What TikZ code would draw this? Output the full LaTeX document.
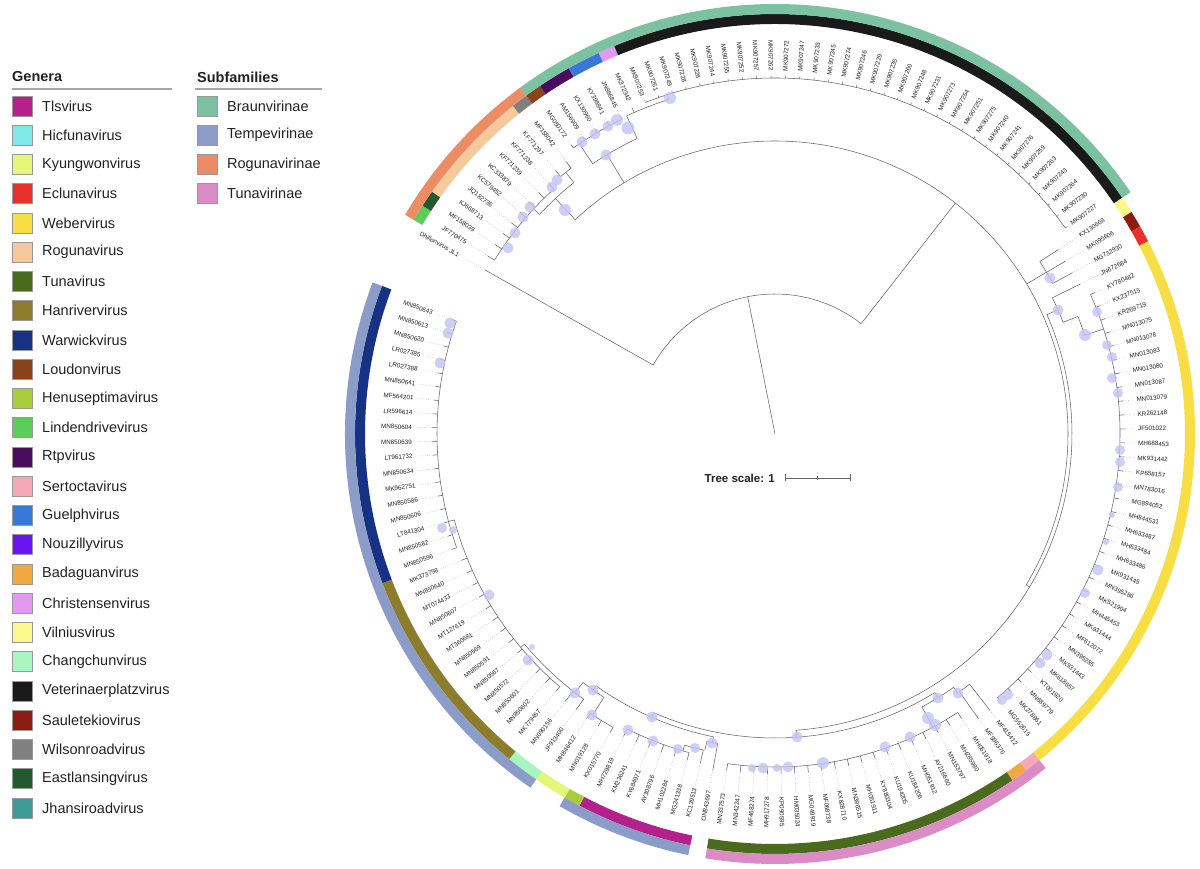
\documentclass[tikz,border=0pt]{standalone}
\usepackage{fontspec}
\setmainfont{Liberation Sans}
\definecolor{cTls}{HTML}{B5218C}
\definecolor{cHicfuna}{HTML}{80E8E8}
\definecolor{cKyungwon}{HTML}{E4F77A}
\definecolor{cEcluna}{HTML}{E8302C}
\definecolor{cWeber}{HTML}{F7DE45}
\definecolor{cRoguna}{HTML}{F5C99C}
\definecolor{cTuna}{HTML}{4A6B1E}
\definecolor{cHanriver}{HTML}{8B7D2B}
\definecolor{cWarwick}{HTML}{173282}
\definecolor{cLoudon}{HTML}{8B421B}
\definecolor{cHenusepti}{HTML}{A8CC3C}
\definecolor{cLindendrive}{HTML}{5CCC5C}
\definecolor{cRtp}{HTML}{4A0C5C}
\definecolor{cSertocta}{HTML}{F4A8B8}
\definecolor{cGuelph}{HTML}{3A78D8}
\definecolor{cNouzilly}{HTML}{6A14F0}
\definecolor{cBadaguan}{HTML}{F2A842}
\definecolor{cChristensen}{HTML}{E29AF0}
\definecolor{cVilnius}{HTML}{FCF98C}
\definecolor{cChangchun}{HTML}{A8F5C0}
\definecolor{cVeterinaer}{HTML}{1A1A1A}
\definecolor{cSauletekio}{HTML}{8E1A14}
\definecolor{cWilsonroad}{HTML}{808080}
\definecolor{cEastlansing}{HTML}{22592F}
\definecolor{cJhansiroad}{HTML}{3A9C94}
\definecolor{sBraun}{HTML}{7CC2A2}
\definecolor{sTempe}{HTML}{8C9CC8}
\definecolor{sRoguna}{HTML}{EC8C64}
\definecolor{sTuna}{HTML}{DC8CC4}
\definecolor{txt}{HTML}{222222}
\definecolor{bootc}{HTML}{C4C4F4}
\def\tz{150.5}
\def\sp{2.3026}
\pgfmathdeclarefunction{LA}{1}{\pgfmathparse{150.5-#1*2.3026}}
\newcommand{\ringseg}[5]{%
  \pgfmathsetmacro\ringA{\tz-(#1-0.5)*\sp}%
  \pgfmathsetmacro\ringB{\tz-(#2+0.5)*\sp}%
  \fill[#5] (\ringA:#3) arc[start angle=\ringA, end angle=\ringB, radius=#3] -- (\ringB:#4) arc[start angle=\ringB, end angle=\ringA, radius=#4] -- cycle;
}
% arc: radius, start angle, end angle
\newcommand{\carc}[3]{\draw[branch] (#2:#1) arc[start angle=#2, end angle=#3, radius=#1];}
% radial branch: angle, r1, r2
\newcommand{\rad}[3]{\draw[branch] (#1:#2) -- (#1:#3);}
% leaves: radius of parent arc, first leaf, last leaf, tip radius
\newcommand{\comb}[4]{%
  \pgfmathsetmacro\combA{LA(#2)}\pgfmathsetmacro\combB{LA(#3)}%
  \draw[branch] (\combA:#1) arc[start angle=\combA, end angle=\combB, radius=#1];
  \foreach \q in {#2,...,#3}{\pgfmathsetmacro\combQ{LA(\q)}\draw[branch] (\combQ:#1) -- (\combQ:#4);\draw[leader] (\combQ:#4) -- (\combQ:360);}
}
\newcommand{\boot}[3]{\fill[bootc, opacity=0.8] (#1-775,434-#2) circle (#3);}
\tikzset{
  lbl/.style={inner sep=0pt, text=txt, font=\fontsize{6.3}{7}\selectfont},
  legsq/.style={minimum size=20pt, inner sep=0pt, draw=black!40, line width=0.6pt},
  legtx/.style={anchor=west, inner sep=0pt, text=txt, font=\fontsize{14.5}{16}\selectfont},
  leghd/.style={anchor=west, inner sep=0pt, text=txt, font=\fontsize{14.5}{16}\selectfont\bfseries},
  leader/.style={black!30, line width=0.4pt, dash pattern=on 0.8pt off 1.6pt},
  branch/.style={black!60, line width=0.55pt},
}
\begin{document}
\begin{tikzpicture}[x=1pt,y=1pt]
\useasboundingbox (-775,-435) rectangle (425,434);
\fill[white] (-775,-435) rectangle (425,434);

% ---------- rings: genus (410-420) ----------
\ringseg{1}{1}{410}{420}{cLindendrive}
\ringseg{2}{2}{410}{420}{cEastlansing}
\ringseg{3}{9}{410}{420}{cRoguna}
\ringseg{10}{10}{410}{420}{cWilsonroad}
\ringseg{11}{11}{410}{420}{cLoudon}
\ringseg{12}{13}{410}{420}{cRtp}
\ringseg{14}{15}{410}{420}{cGuelph}
\ringseg{16}{16}{410}{420}{cChristensen}
\ringseg{17}{50}{410}{420}{cVeterinaer}
\ringseg{51}{51}{410}{420}{cVilnius}
\ringseg{52}{52}{410}{420}{cSauletekio}
\ringseg{53}{53}{410}{420}{cEcluna}
\ringseg{54}{87}{410}{420}{cWeber}
\ringseg{88}{88}{410}{420}{cSertocta}
\ringseg{89}{89}{410}{420}{cBadaguan}
\ringseg{90}{108}{410}{420}{cTuna}
\ringseg{110}{116}{410}{420}{cTls}
\ringseg{117}{117}{410}{420}{cHenusepti}
\ringseg{118}{119}{410}{420}{cKyungwon}
\ringseg{120}{121}{410}{420}{cChangchun}
\ringseg{122}{134}{410}{420}{cHanriver}
\ringseg{135}{152}{410}{420}{cWarwick}
% ---------- rings: subfamily (420-430) ----------
\ringseg{1}{10}{420}{430}{sRoguna}
\ringseg{11}{50}{420}{430}{sBraun}
\ringseg{88}{108}{420}{430}{sTuna}
\ringseg{110}{117}{420}{430}{sTempe}
\ringseg{120}{152}{420}{430}{sTempe}

% ---------- tree ----------
\coordinate (root) at (0,0);
\coordinate (rootnode) at (101.25:140);
\draw[branch] (root) -- (rootnode);
\carc{140}{150.5}{52}
% outgroup
\rad{150.5}{140}{333}
\draw[leader] (150.5:333) -- (150.5:360);
% ingroup
\rad{52}{140}{293}
\carc{293}{133}{-31}
% Rogunavirinae
\rad{133}{293}{322}
\carc{322}{137}{128.65}
\rad{137}{322}{330}
\comb{330}{1}{8}{338}
\rad{128.65}{322}{335}
\comb{335}{9}{10}{343}
% Braunvirinae
\rad{121}{293}{326}
\carc{326}{124}{115}
\rad{124}{326}{350}
\comb{350}{11}{15}{354}
\rad{115}{326}{351}
\carc{351}{115}{107.6}
\pgfmathsetmacro\tA{LA(16)}
\rad{\tA}{351}{356}
\draw[leader] (\tA:356) -- (\tA:360);
\rad{107.6}{351}{356}
\comb{356}{17}{50}{358}
% KX130668 group
\rad{30.8}{293}{316}
\comb{316}{51}{53}{338}
% X node
\rad{-31}{293}{297}
\carc{297}{23.7}{-85.9}
% Webervirus
\rad{23.7}{297}{309}
\pgfmathsetmacro\tB{LA(54)}
\carc{309}{\tB}{21.2}
\rad{\tB}{309}{340}
\draw[leader] (\tB:340) -- (\tB:360);
\rad{21.2}{309}{325}
\carc{325}{21.2}{17.7}
\rad{17.7}{325}{345}
\comb{345}{55}{87}{350}
% Y node
\rad{-85.9}{297}{304}
\carc{304}{-58.3}{-113.5}
% Tunavirinae
\rad{-58.3}{304}{310}
\carc{310}{-54.8}{-61.7}
\rad{-54.8}{310}{317}
\comb{317}{88}{89}{350}
\rad{-61.7}{310}{333}
\comb{333}{90}{108}{340}
% Z node (Tempevirinae and ON843697)
\rad{-113.5}{304}{309}
\carc{309}{-101.5}{-125.4}
\rad{-101.5}{309}{315}
\pgfmathsetmacro\tC{LA(109)}
\carc{315}{\tC}{-102.5}
\rad{\tC}{315}{342}
\draw[leader] (\tC:342) -- (\tC:360);
\rad{-102.5}{315}{324}
\pgfmathsetmacro\tD{LA(110)}
\carc{324}{\tD}{-106.2}
\rad{\tD}{324}{338}
\draw[leader] (\tD:338) -- (\tD:360);
\rad{-106.2}{324}{330}
\comb{330}{111}{116}{338}
\rad{-125.4}{309}{314}
\carc{314}{-123}{-127.7}
\rad{-123}{314}{335}
\comb{335}{117}{119}{341}
\rad{-127.7}{314}{327}
\comb{327}{120}{121}{340}
\pgfmathsetmacro\tE{LA(121)}
\carc{327}{\tE}{-140}
\rad{-140}{327}{332}
\comb{332}{122}{134}{338}
\pgfmathsetmacro\tF{LA(134)}
\carc{332}{\tF}{-165}
\rad{-165}{332}{338}
\comb{338}{135}{152}{343}

% bootstrap circles
\foreach \px/\py/\rr in {670/98/6, 628/128/6.5, 617/120/6, 608/126/5.5, 595/134/5.5, 582/142/5.5, 606/155/5.5, 565/210/6, 552/187/5.5, 557/180/5.5, 530/207/5.5, 523/217/5.5, 515/233/5.5, 508/248/5.5, 1050/278/5.5, 1058/310/5.5, 1085/335/6, 1097/312/5, 1107/345/5, 1112/357/5, 1112/378/5, 1118/393/5, 1120/450/5, 1120/462/5, 1118/487/5, 1112/515/3, 1106/542/3, 1098/570/5.5, 1085/593/5, 1047/655/5.5, 1040/663/5.5, 1008/695/5, 1002/700/5, 885/747/5.5, 910/737/5.5, 928/718/6, 935/725/6, 938/698/5.5, 958/693/5.5, 712/743/5.5, 797/737/5.5, 752/768/4, 763/768/5.5, 777/768/4, 788/767/5.5, 823/763/6, 528/660/5.5, 532/647/3, 575/693/5.5, 593/690/5.5, 592/715/5.5, 628/730/5.5, 652/717/5.5, 653/741/5.5, 678/749/5, 695/748/5, 450/323/5.5, 448/333/5.5, 440/363/5.5, 442/528/5, 453/530/4, 489/595/5.5}{
  \boot{\px}{\py}{\rr}
}

% ---------- leaf labels ----------
\foreach \lab [count=\i from 0] in {Dhillonvirus JL1,JF770475,MF158039,KJ668713,JQ182736,KC579452,KC333879,KF771239,KF771238,KF771237,MF158042,MG050172,AM156909,KX130960,KY398841,JN886845,MK372342,MK907253,MK907261,MK907249,MK907228,MK907226,MK907244,MK907255,MK907252,MK907257,MK907262,MK907272,MK907247,MK907233,MK907245,MK907274,MK907246,MK907229,MK907235,MK907260,MK907248,MK907231,MK907273,MK907254,MK907251,MK907275,MK907240,MK907241,MK907276,MK907259,MK907263,MK907243,MK907264,MK907230,MK907227,KX130668,MK095606,MG732930,JN672684,KY780482,KX237515,KR269719,MN013075,MN013078,MN013083,MN013080,MN013087,MN013079,KR262148,JF501022,MH688453,MK931442,KP658157,MN783016,MG894052,MH844531,MH633487,MH633484,MH633486,MK931445,MN395286,MK521904,MH445453,MK931444,MF612072,MN395285,MK931443,MK618657,KT001920,MN689779,MK278861,MG552615,MF415412,MF996376,MH051918,MH285980,MN153797,AY216660,MH051912,KU184206,KU194205,KY880304,MH051911,MN396515,KX828710,MF068738,MG049919,HM035024,KP090595,MH917278,MF468274,MN342247,MN337573,ON843697,KC139513,MG241338,MH102284,AY308796,KY684971,KM236241,MH729819,KX015770,MN019128,MH846412,JF913400,MN090156,MK779457,MN850602,MN850601,MN850572,MN850567,MN850591,MN850569,MT360681,MT127619,MN850607,MT074433,MN850640,MK373798,MN850596,MN850582,LT841304,MN850606,MN850586,MK962751,MN850634,LT961732,MN850639,MN850604,LR596614,MF564201,MN850641,LR027388,LR027385,MN850620,MN850613,MN850643}{
  \pgfmathsetmacro\a{\tz-\i*\sp}
  \pgfmathtruncatemacro\rs{abs(\a)<90 ? 1 : 0}
  \pgfmathsetmacro\b{\a+180}
  \ifnum\rs=1
    \node[lbl, anchor=west, rotate=\a] (L\i) at (\a:363) {\lab};
  \else
    \node[lbl, anchor=east, rotate=\b] (L\i) at (\a:363) {\lab};
  \fi
}

% ---------- tree scale ----------
\node[inner sep=0pt, anchor=east, text=txt, font=\fontsize{11.5}{13}\selectfont\bfseries] (ts) at (0,-44) {Tree scale: 1};
\coordinate (sb1) at (10,-44);
\coordinate (sb2) at (75,-44);
\coordinate (sbm) at (42.5,-44);
\draw[black!60, line width=0.8pt] (sb1) -- (sb2);
\draw[black!60, line width=0.8pt] ([yshift=-3.5pt]sb1) -- ([yshift=3.5pt]sb1);
\draw[black!60, line width=0.8pt] ([yshift=-3.5pt]sb2) -- ([yshift=3.5pt]sb2);
\draw[black!60, line width=0.6pt] ([yshift=-2pt]sbm) -- ([yshift=2pt]sbm);

% ---------- legend ----------
\begin{scope}[shift={(-775,434)}, y=-1pt]
\node[leghd] (gh) at (12,77) {Genera};
\draw[black!35, line width=1.2pt] (12,89) -- (172,89);
\node[leghd] (sh) at (197,77) {Subfamilies};
\draw[black!35, line width=1.2pt] (195,89) -- (322,89);
\foreach \nm/\col [count=\k from 0] in {Tlsvirus/cTls,Hicfunavirus/cHicfuna,Kyungwonvirus/cKyungwon,Eclunavirus/cEcluna,Webervirus/cWeber,Rogunavirus/cRoguna,Tunavirus/cTuna,Hanrivervirus/cHanriver,Warwickvirus/cWarwick,Loudonvirus/cLoudon,Henuseptimavirus/cHenusepti,Lindendrivevirus/cLindendrive,Rtpvirus/cRtp,Sertoctavirus/cSertocta,Guelphvirus/cGuelph,Nouzillyvirus/cNouzilly,Badaguanvirus/cBadaguan,Christensenvirus/cChristensen,Vilniusvirus/cVilnius,Changchunvirus/cChangchun,Veterinaerplatzvirus/cVeterinaer,Sauletekiovirus/cSauletekio,Wilsonroadvirus/cWilsonroad,Eastlansingvirus/cEastlansing,Jhansiroadvirus/cJhansiroad}{
  \pgfmathsetmacro\yy{106+\k*29.25}
  \node[legsq, fill=\col] (G\k) at (22,\yy) {};
  \node[legtx] (GT\k) at (42,\yy) {\nm};
}
\foreach \nm/\col [count=\k from 0] in {Braunvirinae/sBraun,Tempevirinae/sTempe,Rogunavirinae/sRoguna,Tunavirinae/sTuna}{
  \pgfmathsetmacro\yy{106+\k*29.25}
  \node[legsq, fill=\col] (S\k) at (207,\yy) {};
  \node[legtx] (ST\k) at (227,\yy) {\nm};
}
\end{scope}
\end{tikzpicture}
\end{document}
